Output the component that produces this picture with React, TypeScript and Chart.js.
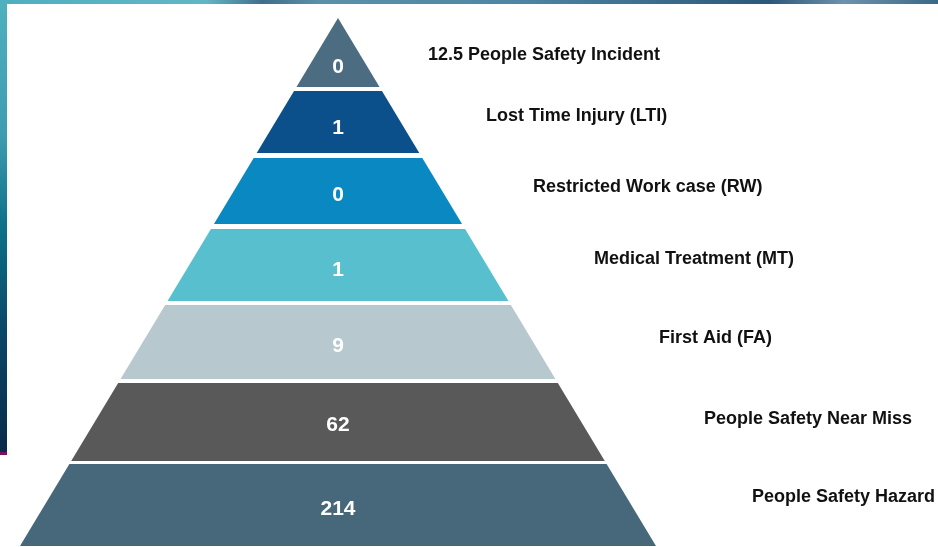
import React, { useEffect, useRef } from "react";
import { Chart, registerables } from "chart.js";

Chart.register(...registerables);

// ---- data ----
const tierLabels = [
  "12.5 People Safety Incident",
  "Lost Time Injury (LTI)",
  "Restricted Work case (RW)",
  "Medical Treatment (MT)",
  "First Aid (FA)",
  "People Safety Near Miss",
  "People Safety Hazard",
];
const tierValues = [0, 1, 0, 1, 9, 62, 214];

// ---- styles ----
const tierColors = ["#4b6c81", "#0b4f8b", "#0a88c2", "#57bfce", "#b8c8cf", "#595959", "#46687a"];

// ---- layout (pyramid geometry, in canvas units) ----
const W = 938;
const H = 547;
const APEX_X = 338;
const APEX_Y = 18;
const BASE_Y = 546;
const BASE_HALF = 318;
const tierTop = [18, 91, 158, 229, 305, 383, 464];
const tierBottom = [87, 153, 224, 301, 379, 461, 546];
const valueY = [67, 128, 195, 270, 346, 425, 509];
const labelX = [428, 486, 533, 594, 659, 704, 752];
const labelY = [55, 116, 187, 259, 338, 419, 497];

const halfWidthAt = (y: number) => (BASE_HALF * (y - APEX_Y)) / (BASE_Y - APEX_Y);

function tierPolygon(i: number) {
  const t = tierTop[i];
  const b = tierBottom[i];
  const ht = halfWidthAt(t);
  const hb = halfWidthAt(b);
  return [
    { x: APEX_X - ht, y: t },
    { x: APEX_X + ht, y: t },
    { x: APEX_X + hb, y: b },
    { x: APEX_X - hb, y: b },
    { x: APEX_X - ht, y: t },
  ];
}

const backgroundPlugin = {
  id: "bgStrips",
  beforeDraw(chart: any) {
    const ctx = chart.ctx as CanvasRenderingContext2D;
    ctx.save();
    ctx.fillStyle = "#ffffff";
    ctx.fillRect(0, 0, W, H);
    // top strip
    const gt = ctx.createLinearGradient(0, 0, W, 0);
    gt.addColorStop(0, "#4fafbf");
    gt.addColorStop(0.22, "#62b6c6");
    gt.addColorStop(0.28, "#3f6f8c");
    gt.addColorStop(0.34, "#5a90aa");
    gt.addColorStop(0.55, "#4d86a4");
    gt.addColorStop(0.7, "#3c6c8c");
    gt.addColorStop(0.82, "#2c587a");
    gt.addColorStop(0.9, "#6d93ad");
    gt.addColorStop(1, "#3a6888");
    ctx.fillStyle = gt;
    ctx.fillRect(0, 0, W, 4);
    // left strip
    const gl = ctx.createLinearGradient(0, 0, 0, 452);
    gl.addColorStop(0, "#4fb0c0");
    gl.addColorStop(0.3, "#3e9cb0");
    gl.addColorStop(0.5, "#0b7188");
    gl.addColorStop(0.72, "#0a4868");
    gl.addColorStop(1, "#0a2a4a");
    ctx.fillStyle = gl;
    ctx.fillRect(0, 0, 7, 452);
    ctx.fillStyle = "#7c0f62";
    ctx.fillRect(0, 452, 7, 3);
    ctx.restore();
  },
};

const textPlugin = {
  id: "tierText",
  afterDatasetsDraw(chart: any) {
    const ctx = chart.ctx as CanvasRenderingContext2D;
    const xs = chart.scales.x;
    const ys = chart.scales.y;
    ctx.save();
    ctx.textBaseline = "middle";
    tierValues.forEach((v, i) => {
      ctx.font = "bold 21px 'Liberation Sans', Arial, sans-serif";
      ctx.fillStyle = "#ffffff";
      ctx.textAlign = "center";
      ctx.fillText(String(v), xs.getPixelForValue(APEX_X), ys.getPixelForValue(valueY[i]));
      ctx.font = "bold 18px 'Liberation Sans', Arial, sans-serif";
      ctx.fillStyle = "#111111";
      ctx.textAlign = "left";
      ctx.fillText(tierLabels[i], xs.getPixelForValue(labelX[i]), ys.getPixelForValue(labelY[i]));
    });
    ctx.restore();
  },
};

export default function App() {
  const ref = useRef<HTMLCanvasElement | null>(null);

  useEffect(() => {
    if (!ref.current) return;
    const chart = new Chart(ref.current, {
      type: "scatter",
      data: {
        datasets: tierValues.map((v, i) => ({
          label: tierLabels[i],
          data: tierPolygon(i),
          showLine: true,
          fill: "shape",
          backgroundColor: tierColors[i],
          borderColor: "rgba(0,0,0,0)",
          borderWidth: 0,
          pointRadius: 0,
          pointHoverRadius: 0,
          tension: 0,
        })),
      },
      options: {
        animation: false,
        responsive: false,
        devicePixelRatio: 1,
        layout: { padding: 0 },
        plugins: {
          legend: { display: false },
          tooltip: { enabled: false },
        },
        events: [],
        scales: {
          x: { type: "linear", min: 0, max: W, display: false },
          y: { type: "linear", min: 0, max: H, reverse: true, display: false },
        },
      },
      plugins: [backgroundPlugin, textPlugin],
    } as any);
    return () => chart.destroy();
  }, []);

  return (
    <div style={{ position: "fixed", left: 0, top: 0, width: W, height: H, background: "#fff" }}>
      <canvas ref={ref} width={W} height={H} style={{ display: "block", width: W, height: H }} />
    </div>
  );
}
